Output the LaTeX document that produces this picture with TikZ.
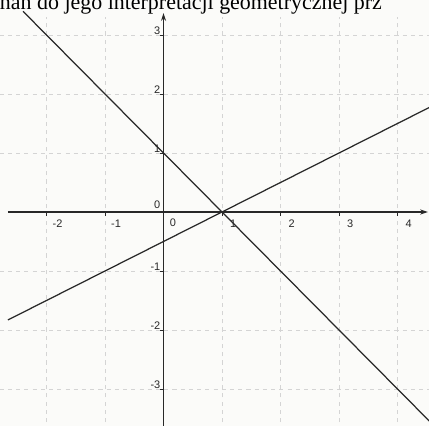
\documentclass[tikz,border=0pt]{standalone}
\usepackage{fontspec}
\setmainfont{Liberation Serif}
\setsansfont{Liberation Sans}
\usetikzlibrary{arrows.meta}
\definecolor{cPaper}{RGB}{251,251,249}
\definecolor{cInk}{RGB}{40,40,40}
\definecolor{cGrid}{RGB}{212,212,212}
\tikzset{
	gridline/.style ={draw=cGrid, dash pattern=on 3pt off 3pt, line width=0.5pt},
	axis/.style     ={draw=cInk, line width=0.8pt, -{Stealth[length=2mm, width=1.3mm]}},
	graphline/.style={draw=cInk, line width=0.9pt},
	tickmark/.style ={draw=cInk, line width=0.6pt},
	ticklbl/.style  ={font=\sffamily\fontsize{8}{9}\selectfont, text=cInk, inner sep=0pt},
}

\begin{document}
\begin{tikzpicture}[x=1.5cm, y=1.5128cm]
	\useasboundingbox (-2.795,-3.627) rectangle (4.538,3.593);
	\clip (-2.795,-3.627) rectangle (4.538,3.593);
	\fill[cPaper] (-2.795,-3.627) rectangle (4.538,3.593);
	% grid
	\foreach \k in {-2,-1,1,2,3,4} \draw[gridline] (\k,-3.7) -- (\k,3.3);
	\foreach \k in {-3,-2,-1,1,2,3} \draw[gridline] (-2.8,\k) -- (4.6,\k);
	% axes
	\draw[axis] (-2.66,0) -- (4.52,0);
	\draw[axis] (0,-3.7) -- (0,3.37);
	\foreach \k in {-2,-1,1,2,3,4} {
		\draw[tickmark] (\k,0) -- (\k,-0.06);
		\node[ticklbl] (xl\k) at (\k+0.19,-0.2) {\k};
	}
	\foreach \k in {-3,-2,-1,1,2,3} {
		\draw[tickmark] (0,\k) -- (-0.06,\k);
		\node[ticklbl, anchor=east] (yl\k) at (-0.05,\k+0.07) {\k};
	}
	\node[ticklbl] (xl0) at (0.16,-0.19) {0};
	\node[ticklbl, anchor=east] (yl0) at (-0.05,0.12) {0};
	% the two lines
	\draw[graphline] (-2.4,3.4) -- (4.7,-3.7);
	\draw[graphline] (-2.66,-1.83) -- (4.7,1.85);
	% cut-off text above the graph
	\node[anchor=base west, inner sep=0pt, font=\fontsize{16}{18}\selectfont] (head) at (-2.80,3.44) {nań do jego interpretacji geometrycznej prz};
\end{tikzpicture}
\end{document}
